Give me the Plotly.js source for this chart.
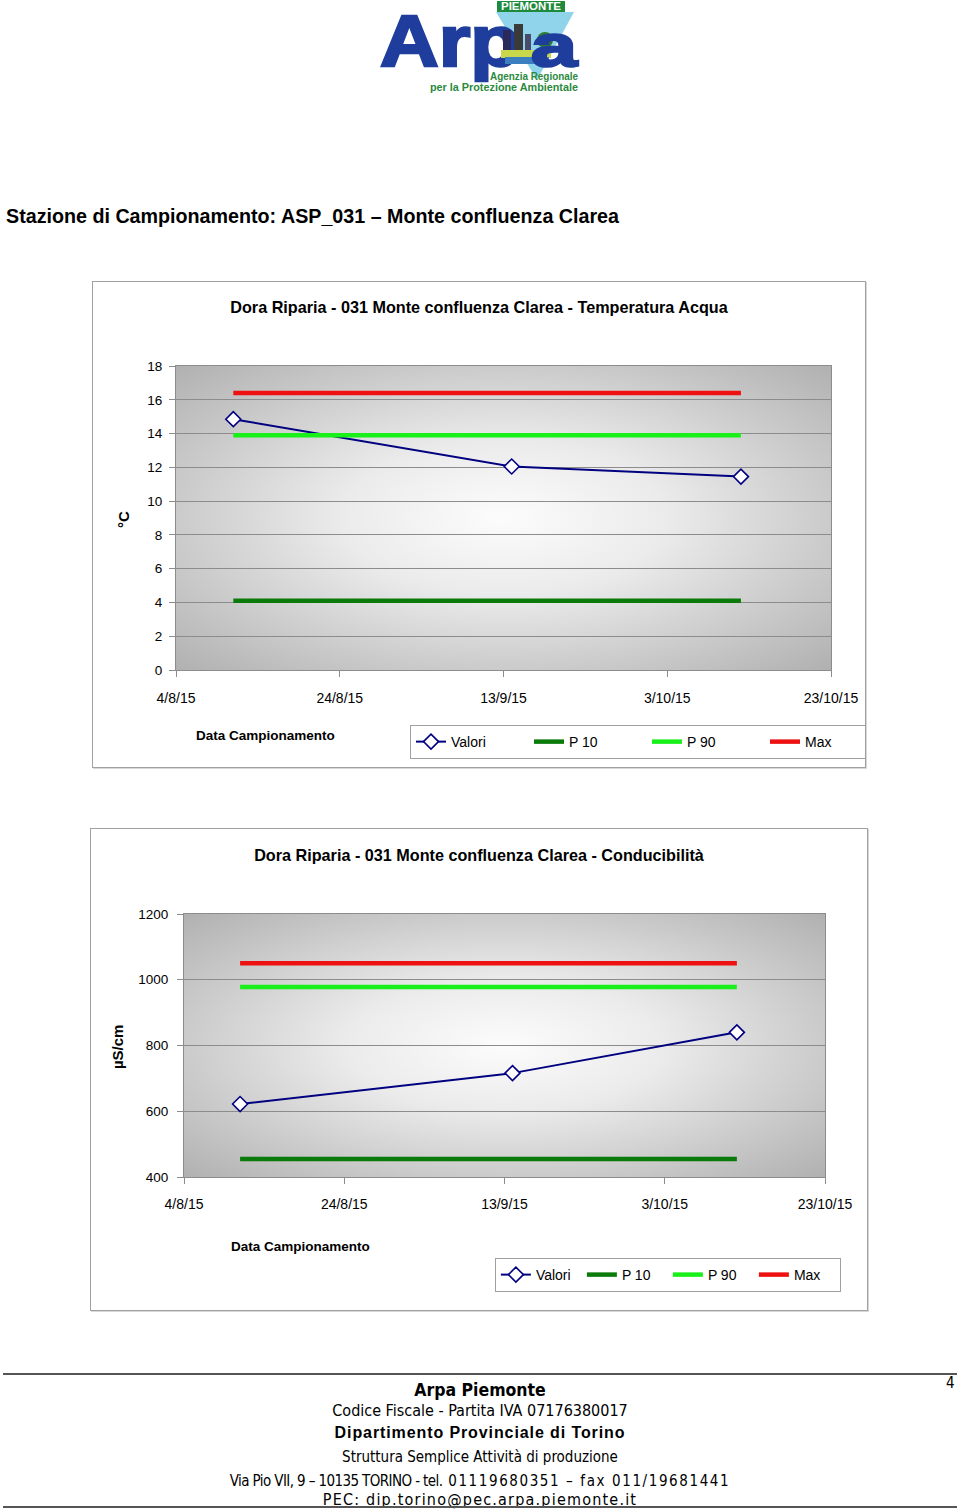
<!DOCTYPE html>
<html>
<head>
<meta charset="utf-8">
<script src="https://cdn.plot.ly/plotly-3.0.1.min.js"></script>
<style>
  html, body { margin:0; padding:0; background:#fff; }
  body { width:960px; height:1509px; position:relative; overflow:hidden; font-family:"Liberation Sans", Arial, sans-serif; }
  .abs { position:absolute; }
  .frame { position:absolute; border:1px solid #a0a0a0; background:#fff; box-shadow:1px 1px 0 #d8d8d8; }
  .center { position:absolute; left:0; width:960px; text-align:center; white-space:nowrap; color:#000; }
  .narrow { font-family:"Liberation Sans Narrow","Arial Narrow","DejaVu Sans Condensed",sans-serif; }
</style>
</head>
<body>

<!-- Logo -->
<svg class="abs" style="left:0;top:0" width="960" height="100" viewBox="0 0 960 100">
  <polygon points="496,12 574,12 537,80" fill="#8fd4ea"/>
  <text x="380" y="66" font-family="Liberation Sans, Arial" font-weight="bold" font-size="72" fill="#1f3d9c" stroke="#1f3d9c" stroke-width="2.5" textLength="140" lengthAdjust="spacingAndGlyphs">Arp</text>
  <rect x="503" y="30" width="8" height="22" fill="#2a2a5a"/>
  <rect x="514" y="24" width="9" height="28" fill="#3a3a3a"/>
  <rect x="525" y="34" width="6" height="18" fill="#4a4a6a"/>
  <circle cx="545" cy="40" r="8" fill="#2f7a2f"/>
  <rect x="501" y="50" width="50" height="8" fill="#c8d84a"/>
  <rect x="505" y="57" width="44" height="7" fill="#3c7fc0"/>
  <rect x="497" y="1" width="68" height="11" fill="#1e8b3c"/>
  <text x="531" y="10" text-anchor="middle" font-family="Liberation Sans, Arial" font-weight="bold" font-size="10" fill="#fff" textLength="60" lengthAdjust="spacingAndGlyphs">PIEMONTE</text>
  <text x="531" y="66" font-family="Liberation Sans, Arial" font-weight="bold" font-size="60" fill="#1f3d9c" stroke="#1f3d9c" stroke-width="2.5" textLength="46" lengthAdjust="spacingAndGlyphs">a</text>
  <text x="490" y="80" font-family="Liberation Sans, Arial" font-weight="bold" font-size="11" fill="#2b8a3e" textLength="88" lengthAdjust="spacingAndGlyphs">Agenzia Regionale</text>
  <text x="430" y="91" font-family="Liberation Sans, Arial" font-weight="bold" font-size="11" fill="#2b8a3e" textLength="148" lengthAdjust="spacingAndGlyphs">per la Protezione Ambientale</text>
</svg>

<div class="abs" style="left:6px;top:205px;font-size:19.7px;font-weight:bold;line-height:23px;white-space:nowrap;">Stazione di Campionamento: ASP_031 – Monte confluenza Clarea</div>

<div class="frame" style="left:92px;top:281px;width:772px;height:485px;"><div id="chart1" style="width:772px;height:485px;"></div></div>
<div class="frame" style="left:90px;top:828px;width:776px;height:481px;"><div id="chart2" style="width:776px;height:481px;"></div></div>

<!-- Footer -->
<div class="abs" style="left:3px;top:1373px;width:954px;height:2px;background:#555;"></div>
<div class="abs narrow" style="left:946px;top:1374px;font-size:15px;">4</div>
<div class="center narrow" style="top:1379px;font-size:17.5px;font-weight:bold;line-height:22px;">Arpa Piemonte</div>
<div class="center narrow" style="top:1401px;font-size:16px;line-height:19px;">Codice Fiscale - Partita IVA 07176380017</div>
<div class="center" style="top:1423px;font-size:16px;font-weight:bold;line-height:19px;letter-spacing:0.9px;">Dipartimento Provinciale di Torino</div>
<div class="center narrow" style="top:1448px;font-size:15px;line-height:18px;">Struttura Semplice Attività di produzione</div>
<div class="center narrow" style="top:1472px;font-size:15px;line-height:18px;"><span style="letter-spacing:-0.6px">Via Pio VII, 9 – 10135 TORINO - tel.</span><span style="letter-spacing:1.6px"> 01119680351 – fax 011/19681441</span></div>
<div class="center narrow" style="top:1490px;font-size:16px;line-height:19px;letter-spacing:1.2px;">PEC: dip.torino@pec.arpa.piemonte.it</div>
<div class="abs" style="left:3px;top:1506px;width:954px;height:2px;background:#555;"></div>

<script>
// ---------- Data ----------
const sampleDates = ['2015-08-11', '2015-09-14', '2015-10-12'];
const seriesNames = ['Valori', 'P 10', 'P 90', 'Max'];
const xTickVals = ['2015-08-04', '2015-08-24', '2015-09-13', '2015-10-03', '2015-10-23'];
const xTickText = ['4/8/15', '24/8/15', '13/9/15', '3/10/15', '23/10/15'];

const tempValori = [14.85, 12.05, 11.45];
const tempP10 = [4.1, 4.1, 4.1];
const tempP90 = [13.9, 13.9, 13.9];
const tempMax = [16.4, 16.4, 16.4];
const tempTicks = [0, 2, 4, 6, 8, 10, 12, 14, 16, 18];

const condValori = [622, 716, 840];
const condP10 = [455, 455, 455];
const condP90 = [978, 978, 978];
const condMax = [1050, 1050, 1050];
const condTicks = [400, 600, 800, 1000, 1200];

// ---------- Styles ----------
const FONT = '"Liberation Sans", Arial, sans-serif';
const colors = { valori: '#000080', p10: '#0a7a0a', p90: '#19f019', max: '#ee1111' };

const bgSvg = "<svg xmlns='http://www.w3.org/2000/svg' width='100' height='100' viewBox='0 0 100 100' preserveAspectRatio='none'>" +
  "<defs><radialGradient id='g' cx='50%' cy='50%' r='71%'>" +
  "<stop offset='0' stop-color='#fcfcfc'/><stop offset='0.35' stop-color='#ebebeb'/>" +
  "<stop offset='0.7' stop-color='#cbcbcb'/><stop offset='1' stop-color='#b0b0b0'/></radialGradient></defs>" +
  "<rect width='100' height='100' fill='url(#g)'/></svg>";
const bgSrc = 'data:image/svg+xml;charset=utf-8,' + encodeURIComponent(bgSvg);

function makeTraces(valori, p10, p90, max) {
  const thick = (y, name, color) => ({
    x: sampleDates, y: y, name: name, type: 'scatter', mode: 'lines',
    line: { color: color, width: 4.5 }, hoverinfo: 'skip'
  });
  return [
    { x: sampleDates, y: valori, name: seriesNames[0], type: 'scatter', mode: 'lines+markers',
      line: { color: colors.valori, width: 2 },
      marker: { symbol: 'diamond', size: 11.5, color: '#ffffff', line: { color: colors.valori, width: 1.6 } } },
    thick(p10, seriesNames[1], colors.p10),
    thick(p90, seriesNames[2], colors.p90),
    thick(max, seriesNames[3], colors.max)
  ];
}

function makeLayout(o) {
  return {
    width: o.w, height: o.h,
    margin: { l: o.l, r: o.r, t: o.t, b: o.b, autoexpand: false },
    paper_bgcolor: '#ffffff',
    plot_bgcolor: 'rgba(0,0,0,0)',
    showlegend: true,
    title: { text: '<b>' + o.title + '</b>', font: { family: FONT, size: 16.2, color: '#000' },
             x: 0.5, xref: 'container', y: o.titleY, yref: 'container', yanchor: 'middle' },
    xaxis: {
      type: 'date', range: [xTickVals[0], xTickVals[xTickVals.length - 1]],
      tickmode: 'array', tickvals: xTickVals, ticktext: xTickText,
      ticks: 'outside', ticklen: 6, tickcolor: '#8c8c8c',
      showgrid: false, zeroline: false,
      showline: true, linecolor: '#8c8c8c', linewidth: 1, mirror: true,
      tickfont: { family: FONT, size: 14, color: '#000' },
      ticklabelstandoff: o.xStandoff, fixedrange: true
    },
    yaxis: {
      range: [o.yTicks[0], o.yTicks[o.yTicks.length - 1]],
      tickmode: 'array', tickvals: o.yTicks,
      ticks: 'outside', ticklen: 6, tickcolor: '#8c8c8c',
      showgrid: true, gridcolor: '#8c8c8c', gridwidth: 1, zeroline: false,
      showline: true, linecolor: '#8c8c8c', linewidth: 1, mirror: true,
      tickfont: { family: FONT, size: 13.5, color: '#000' },
      ticklabelstandoff: o.yStandoff, fixedrange: true
    },
    images: [{ source: bgSrc, xref: 'paper', yref: 'paper', x: 0, y: 1, sizex: 1, sizey: 1,
               xanchor: 'left', yanchor: 'top', sizing: 'stretch', layer: 'below' }],
    legend: {
      orientation: 'h', x: o.legX, y: o.legY, xanchor: 'left', yanchor: 'top',
      bgcolor: '#ffffff', bordercolor: '#a0a0a0', borderwidth: 1,
      font: { family: FONT, size: 14, color: '#000' },
      entrywidth: o.entryW, entrywidthmode: 'pixels', traceorder: 'normal'
    },
    annotations: [
      { text: '<b>' + o.yTitle + '</b>', xref: 'paper', yref: 'paper', x: o.yTitleX, y: o.yTitleY,
        textangle: -90, showarrow: false, xanchor: 'center', yanchor: 'middle',
        font: { family: FONT, size: 15, color: '#000' } },
      { text: '<b>Data Campionamento</b>', xref: 'paper', yref: 'paper', x: o.xTitleX, y: o.xTitleY,
        showarrow: false, xanchor: 'center', yanchor: 'middle',
        font: { family: FONT, size: 13.5, color: '#000' } }
    ]
  };
}

Plotly.newPlot('chart1', makeTraces(tempValori, tempP10, tempP90, tempMax), makeLayout({
  w: 772, h: 485, l: 83, r: 34, t: 84, b: 97,
  title: 'Dora Riparia - 031 Monte confluenza Clarea - Temperatura Acqua', titleY: 1 - 25 / 485,
  yTicks: tempTicks, xStandoff: 9, yStandoff: 4,
  legX: (410 - 176) / 655, legY: -0.181, entryW: 73,
  yTitle: '°C', yTitleX: -0.0794, yTitleY: 0.497,
  xTitleX: 0.136, xTitleY: -0.214
}), { staticPlot: true });

Plotly.newPlot('chart2', makeTraces(condValori, condP10, condP90, condMax), makeLayout({
  w: 776, h: 481, l: 93, r: 42, t: 85, b: 133,
  title: 'Dora Riparia - 031 Monte confluenza Clarea - Conducibilità', titleY: 1 - 26 / 481,
  yTicks: condTicks, xStandoff: 8, yStandoff: 6,
  legX: 0.485, legY: -0.308, entryW: 41,
  yTitle: 'µS/cm', yTitleX: -0.1045, yTitleY: 0.494,
  xTitleX: 0.181, xTitleY: -0.266
}), { staticPlot: true });
</script>
</body>
</html>
